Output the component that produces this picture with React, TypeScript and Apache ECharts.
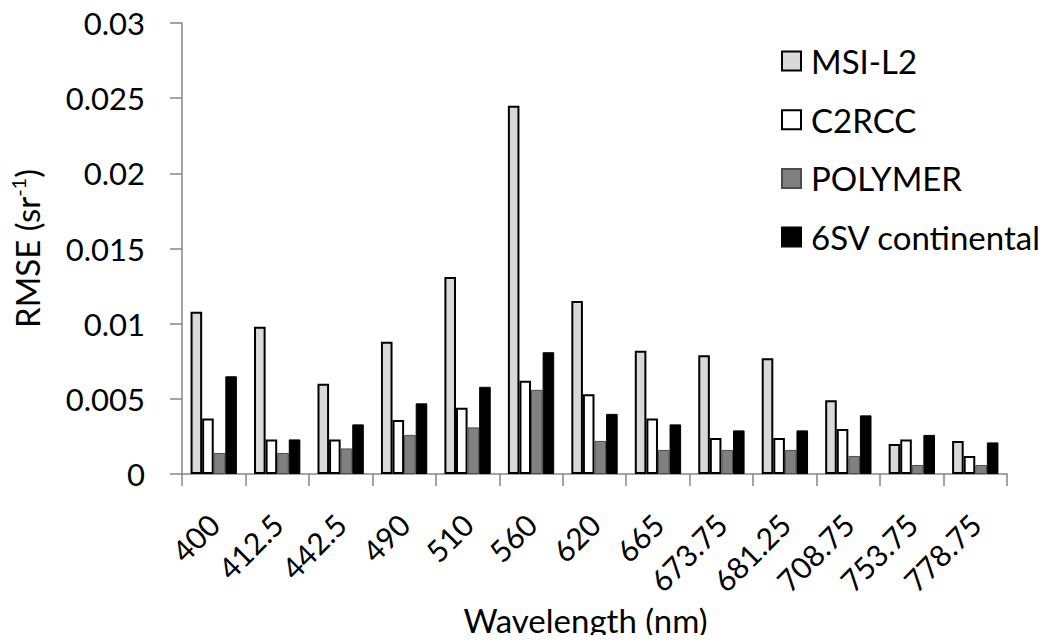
import React, { useEffect, useRef } from "react";
import * as echarts from "echarts";

const categories = ["400", "412.5", "442.5", "490", "510", "560", "620", "665", "673.75", "681.25", "708.75", "753.75", "778.75"];
const msiL2 = [0.0108, 0.0098, 0.006, 0.0088, 0.0131, 0.0245, 0.0115, 0.0082, 0.0079, 0.0077, 0.0049, 0.002, 0.0022];
const c2rcc = [0.0037, 0.0023, 0.0023, 0.0036, 0.0044, 0.0062, 0.0053, 0.0037, 0.0024, 0.0024, 0.003, 0.0023, 0.0012];
const polymer = [0.0014, 0.0014, 0.0017, 0.0026, 0.0031, 0.0056, 0.0022, 0.0016, 0.0016, 0.0016, 0.0012, 0.0006, 0.0006];
const sixSV = [0.0065, 0.0023, 0.0033, 0.0047, 0.0058, 0.0081, 0.004, 0.0033, 0.0029, 0.0029, 0.0039, 0.0026, 0.0021];
const yTicks = { min: 0, max: 0.03, interval: 0.005 };

const FONT = "Lato, 'Open Sans', sans-serif";

export default function App() {
  const ref = useRef<HTMLDivElement>(null);
  useEffect(() => {
    if (!ref.current) return;
    const chart = echarts.init(ref.current, null, { renderer: "svg" });
    const mk = (name: string, data: number[], color: string, border: string, bw: number) => ({
      name,
      type: "bar",
      data,
      barGap: "0%",
      barCategoryGap: "27%",
      itemStyle: { color, borderColor: border, borderWidth: bw },
    });
    chart.setOption({
      animation: false,
      backgroundColor: "#ffffff",
      textStyle: { fontFamily: FONT, color: "#000" },
      grid: { left: 174, right: 40, top: 23, bottom: 169, containLabel: false },
      legend: {
        orient: "vertical",
        left: 776,
        top: 38,
        icon: "rect",
        itemWidth: 19,
        itemHeight: 19,
        itemGap: 22.7,
        textStyle: { fontSize: 33, fontFamily: FONT, color: "#000", lineHeight: 36, padding: [0, 0, 0, 5] },
        data: ["MSI-L2", "C2RCC", "POLYMER", "6SV continental"],
      },
      xAxis: {
        type: "category",
        data: categories,
        name: "Wavelength (nm)",
        nameLocation: "middle",
        nameGap: 127,
        nameTextStyle: { fontSize: 33, fontFamily: FONT, color: "#000", padding: [0, 18, 0, 0] },
        axisLine: { lineStyle: { color: "#868686", width: 1.5 } },
        axisTick: { show: true, length: 12, lineStyle: { color: "#868686", width: 1.5 } },
        axisLabel: {
          rotate: 45,
          fontSize: 30,
          fontFamily: FONT,
          color: "#000",
          margin: 45,
          interval: 0,
        },
      },
      yAxis: {
        type: "value",
        min: yTicks.min,
        max: yTicks.max,
        interval: yTicks.interval,
        name: "{a|RMSE (sr}{b|-1}{a|)}",
        nameLocation: "middle",
        nameRotate: 90,
        nameGap: 136,
        nameTextStyle: {
          fontFamily: FONT,
          color: "#000",
          rich: {
            a: { fontSize: 33, fontFamily: FONT, color: "#000", lineHeight: 38 },
            b: { fontSize: 20, fontFamily: FONT, color: "#000", lineHeight: 22, verticalAlign: "top" },
          },
        },
        axisLine: { show: true, lineStyle: { color: "#868686", width: 1.5 } },
        axisTick: { show: true, length: 12, lineStyle: { color: "#868686", width: 1.5 } },
        splitLine: { show: false },
        axisLabel: { fontSize: 31, fontFamily: FONT, color: "#000", margin: 37 },
      },
      series: [
        mk("MSI-L2", msiL2, "#d9d9d9", "#000", 2),
        mk("C2RCC", c2rcc, "#ffffff", "#000", 2),
        mk("POLYMER", polymer, "#808080", "#4d4d4d", 1),
        mk("6SV continental", sixSV, "#000000", "#000", 1),
      ],
    });
    return () => chart.dispose();
  }, []);
  return <div ref={ref} style={{ width: 1047, height: 643, margin: -8 }} />;
}
